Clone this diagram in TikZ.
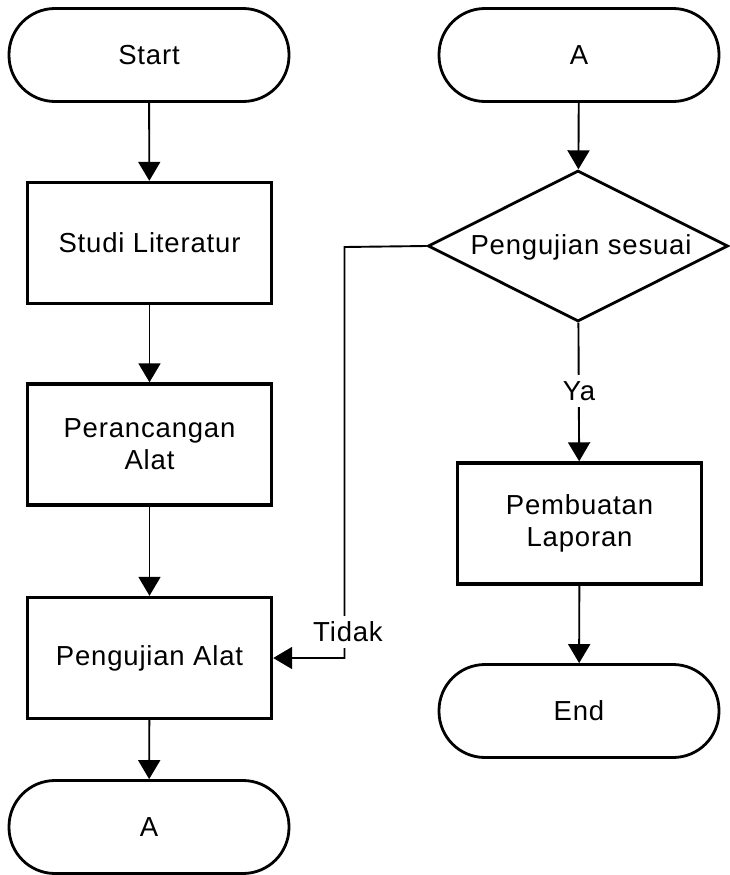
\documentclass[tikz,border=0pt]{standalone}
\usepackage{fontspec}
\setmainfont[LetterSpace=3]{Liberation Sans}
\usetikzlibrary{arrows.meta,shapes.geometric}
\begin{document}
\begin{tikzpicture}[x=1pt,y=-1pt,
  font=\fontsize{27.5}{32}\selectfont,
  term/.style={draw,line width=2.8pt,minimum width=280pt,minimum height=93pt,rounded corners=46pt,inner sep=0pt,align=center},
  procbox/.style={draw,line width=3.4pt,minimum width=244pt,minimum height=121pt,inner sep=0pt,align=center},
  decbox/.style={draw,diamond,line width=2.8pt,minimum width=300pt,minimum height=151pt,inner sep=0pt},
  conn/.style={line width=1.9pt,-{Triangle[width=22pt,length=19pt]}},
  lbl/.style={fill=white,inner xsep=1pt,inner ysep=6pt}]
\useasboundingbox (0,0) rectangle (729,875);
\node[term] (start) at (149,55) {Start};
\node[procbox] (studi) at (149.5,243) {Studi Literatur};
\node[procbox] (peran) at (149.5,444.5) {Perancangan\\Alat};
\node[procbox] (peng) at (149.5,658) {Pengujian Alat};
\node[term] (a1) at (149,827) {A};
\node[term] (a2) at (579,55) {A};
\node[decbox] (dec) at (578,246) {};
\node (dectext) at (581,247) {Pengujian sesuai};
\node[procbox] (lap) at (579.5,523.5) {Pembuatan\\Laporan};
\node[term] (end) at (579,711) {End};
\coordinate (fb) at (344.5,247);
\draw[conn] (start) -- (studi);
\draw[conn] (studi) -- (peran);
\draw[conn] (peran) -- (peng);
\draw[conn] (peng) -- (a1);
\draw[conn] (a2) -- (dec);
\draw[conn] (dec) -- (lap);
\draw[conn] (lap) -- (end);
\draw[conn] (dec.west) -- (fb) |- (peng.east);
\node[lbl] (tidak) at (348,632) {Tidak};
\node[lbl] (ya) at (579,391) {Ya};
\end{tikzpicture}
\end{document}
